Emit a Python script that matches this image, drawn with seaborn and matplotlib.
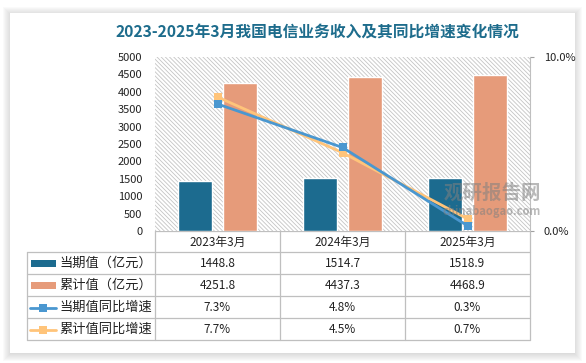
import numpy as np
import pandas as pd
import matplotlib
matplotlib.use('Agg')
import matplotlib.pyplot as plt
from matplotlib.patches import Rectangle
import seaborn as sns

sns.set_style('white')
plt.rcParams['font.family'] = ['Noto Sans CJK SC', 'DejaVu Sans']
plt.rcParams['hatch.linewidth'] = 0.6
plt.rcParams['hatch.color'] = '#C4C4C4'

# ---- data ----
categories = ['2023年3月', '2024年3月', '2025年3月']
current_val = [1448.8, 1514.7, 1518.9]
cumulative_val = [4251.8, 4437.3, 4468.9]
current_yoy = [7.3, 4.8, 0.3]
cumulative_yoy = [7.7, 4.5, 0.7]
series_names = ['当期值（亿元）', '累计值（亿元）', '当期值同比增速', '累计值同比增速']
title = '2023-2025年3月我国电信业务收入及其同比增速变化情况'

c_dark = '#1C6B8F'
c_orange = '#E69B7A'
c_blue = '#4A97D0'
c_yellow = '#FFC47A'
grid_c = '#BFBFBF'

W, H = 586, 363
fig = plt.figure(figsize=(W / 100, H / 100), dpi=100)
fig.patch.set_facecolor('white')

# background / table layer in pixel coords
bg = fig.add_axes([0, 0, 1, 1], zorder=0)
bg.set_xlim(0, W)
bg.set_ylim(H, 0)
bg.axis('off')

# card with soft shadow
cx0, cy0, cx1, cy1 = 10, 13, 575, 353
for k in range(8, 0, -1):
    bg.add_patch(Rectangle((cx0 - k + 1, cy0 - k + 2), cx1 - cx0 + 2 * k - 2, cy1 - cy0 + 2 * k - 2,
                           facecolor='#808080', edgecolor='none', alpha=0.035))
bg.add_patch(Rectangle((cx0, cy0), cx1 - cx0, cy1 - cy0, facecolor='white', edgecolor='none'))

bg.text(317, 33, title, ha='center', va='center', fontsize=11.3,
        fontweight='bold', color='#1D6C8C')

# plot area geometry (pixels)
px0, px1, py0, py1 = 155, 530, 57, 231
ax = fig.add_axes([px0 / W, (H - py1) / H, (px1 - px0) / W, (py1 - py0) / H], zorder=1)
ax.patch.set_alpha(0)
ax.add_patch(Rectangle((0, 0), 1, 1, transform=ax.transAxes, facecolor='white',
                       hatch='\\' * 8, edgecolor='#C4C4C4', linewidth=0, zorder=0))

df = pd.DataFrame({
    'cat': categories * 2,
    'val': current_val + cumulative_val,
    'series': [series_names[0]] * 3 + [series_names[1]] * 3,
})
sns.barplot(data=df, x='cat', y='val', hue='series', palette=[c_dark, c_orange],
            saturation=1, width=0.72, gap=0.25, edgecolor='white', linewidth=1,
            legend=False, ax=ax, zorder=2)
ax.set_xlim(-0.5, 2.5)
ax.set_ylim(0, 5000)
ax.set_yticks(np.arange(0, 5001, 500))
ax.tick_params(axis='y', length=0, pad=9, labelsize=8, labelcolor='#222222')
ax.set_xticks([])
ax.set_xlabel('')
ax.set_ylabel('')
for s in ax.spines.values():
    s.set_visible(False)

ax2 = ax.twinx()
ax2.set_zorder(2)
ax2.patch.set_alpha(0)
x = np.arange(len(categories))
sns.lineplot(x=x, y=np.array(cumulative_yoy) / 100, color=c_yellow, lw=2,
             marker='s', markersize=6, markeredgewidth=0, ax=ax2, zorder=3)
sns.lineplot(x=x, y=np.array(current_yoy) / 100, color=c_blue, lw=2,
             marker='s', markersize=6, markeredgewidth=0, ax=ax2, zorder=4)
ax2.set_ylim(0, 0.10)
ax2.set_yticks([0, 0.10])
ax2.set_yticklabels(['0.0%', '10.0%'])
ax2.tick_params(axis='y', length=3, color='#A0A0A0', pad=7, labelsize=8,
                labelcolor='#222222', direction='out')
ax2.set_xlim(-0.5, 2.5)
for k, s in ax2.spines.items():
    s.set_visible(k == 'right')
ax2.spines['right'].set_color('#BFBFBF')
ax2.spines['right'].set_linewidth(0.8)

# ---- data table below ----
tx0 = 27
col_w = (px1 - px0) / len(categories)
row_y = [231, 252, 274, 296, 318, 340]
lw = 0.9
bg.plot([px0, px1], [row_y[0], row_y[0]], color=grid_c, lw=lw)
for yy in row_y[1:]:
    bg.plot([tx0, px1], [yy, yy], color=grid_c, lw=lw)
bg.plot([tx0, tx0], [row_y[1], row_y[-1]], color=grid_c, lw=lw)
for i in range(len(categories) + 1):
    xx = px0 + i * col_w
    bg.plot([xx, xx], [row_y[0], row_y[-1]], color=grid_c, lw=lw)

for i, c in enumerate(categories):
    bg.text(px0 + (i + 0.5) * col_w, (row_y[0] + row_y[1]) / 2 + 0.5, c,
            ha='center', va='center', fontsize=8.5, color='#222222')

rows = [
    [f'{v:.1f}' for v in current_val],
    [f'{v:.1f}' for v in cumulative_val],
    [f'{v:.1f}%' for v in current_yoy],
    [f'{v:.1f}%' for v in cumulative_yoy],
]
for r, vals in enumerate(rows):
    yc = (row_y[r + 1] + row_y[r + 2]) / 2 + 0.5
    for i, v in enumerate(vals):
        bg.text(px0 + (i + 0.5) * col_w, yc, v, ha='center', va='center',
                fontsize=8.5, color='#222222')
    bg.text(59, yc, series_names[r], ha='left', va='center', fontsize=9.5, color='#222222')
    if r < 2:
        bg.add_patch(Rectangle((31, yc - 3.5), 25, 7,
                               facecolor=[c_dark, c_orange][r], edgecolor='none'))
    else:
        col = [c_blue, c_yellow][r - 2]
        bg.plot([30, 56], [yc, yc], color=col, lw=2)
        bg.plot([43], [yc], marker='s', markersize=6, color=col, markeredgewidth=0)

# watermark
fig.text(492 / W, 1 - 193 / H, '观研报告网', ha='center', va='center', fontsize=14,
         fontweight='bold', color='#808080', alpha=0.55, zorder=10)
fig.text(492 / W, 1 - 212 / H, 'chinabaogao.com', ha='center', va='center', fontsize=8,
         fontweight='bold', color='#808080', alpha=0.55, zorder=10)

fig.savefig('out.png', dpi=100)
